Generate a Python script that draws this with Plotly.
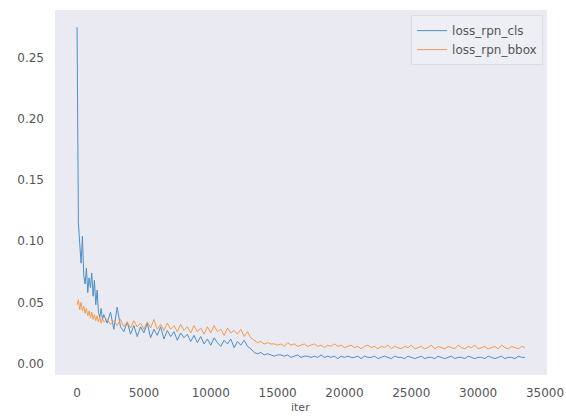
import plotly.graph_objects as go

ITERS = list(range(0, 2001, 100)) + list(range(2250, 33501, 250))

LOSS_RPN_CLS = [
    0.275, 0.115, 0.098, 0.082, 0.104, 0.072, 0.065, 0.078, 0.058, 0.070,
    0.062, 0.074, 0.055, 0.068, 0.048, 0.060, 0.042, 0.038, 0.045, 0.036,
    0.040,
    0.033, 0.042, 0.028, 0.046, 0.030, 0.026, 0.034, 0.024, 0.031, 0.022,
    0.030, 0.025, 0.033, 0.021, 0.028, 0.023, 0.030, 0.020, 0.027, 0.022,
    0.026, 0.019, 0.025, 0.021, 0.024, 0.018, 0.023, 0.017, 0.022, 0.016,
    0.020, 0.015, 0.021, 0.017, 0.014, 0.019, 0.016, 0.020, 0.013, 0.018,
    0.015, 0.019, 0.014, 0.012, 0.009, 0.008, 0.009, 0.007, 0.008, 0.007,
    0.006, 0.007,
    0.007, 0.006, 0.007, 0.005, 0.006, 0.007, 0.005, 0.006, 0.006, 0.005,
    0.006, 0.005, 0.007, 0.005, 0.006, 0.005, 0.006, 0.004, 0.006, 0.005,
    0.006, 0.005, 0.005, 0.006, 0.004, 0.006, 0.005, 0.005, 0.006, 0.004,
    0.005, 0.006, 0.005, 0.004, 0.006, 0.005, 0.005, 0.004, 0.006, 0.005,
    0.004, 0.005, 0.006, 0.004, 0.005, 0.005, 0.004, 0.006, 0.005, 0.004,
    0.005, 0.006, 0.004, 0.005, 0.005, 0.004, 0.006, 0.005, 0.004, 0.005,
    0.005, 0.004, 0.006, 0.005, 0.004, 0.005, 0.006, 0.004, 0.005, 0.005,
    0.004, 0.006, 0.005, 0.005,
]

LOSS_RPN_BBOX = [
    0.048, 0.052, 0.044, 0.050, 0.043, 0.047, 0.041, 0.045, 0.039, 0.043,
    0.037, 0.042, 0.036, 0.040, 0.035, 0.039, 0.034, 0.038, 0.033, 0.037,
    0.034,
    0.036, 0.032, 0.035, 0.031, 0.036, 0.030, 0.034, 0.029, 0.035, 0.030,
    0.033, 0.028, 0.034, 0.029, 0.036, 0.028, 0.032, 0.027, 0.033, 0.028,
    0.031, 0.026, 0.032, 0.027, 0.030, 0.025, 0.031, 0.026, 0.029, 0.024,
    0.030, 0.025, 0.031, 0.026, 0.028, 0.023, 0.029, 0.025, 0.027, 0.024,
    0.028, 0.022, 0.026, 0.021, 0.019, 0.017, 0.018, 0.016, 0.017, 0.016,
    0.016, 0.015,
    0.016, 0.014, 0.017, 0.015, 0.016, 0.014, 0.015, 0.016, 0.014, 0.015,
    0.016, 0.014, 0.015, 0.013, 0.015, 0.014, 0.016, 0.014, 0.015, 0.013,
    0.014, 0.015, 0.013, 0.014, 0.012, 0.014, 0.015, 0.013, 0.014, 0.012,
    0.014, 0.013, 0.015, 0.012, 0.014, 0.013, 0.012, 0.014, 0.013, 0.015,
    0.012, 0.013, 0.014, 0.012, 0.013, 0.015, 0.012, 0.014, 0.013, 0.012,
    0.014, 0.013, 0.012, 0.015, 0.013, 0.012, 0.014, 0.013, 0.015, 0.012,
    0.013, 0.014, 0.012, 0.013, 0.014, 0.012, 0.015, 0.013, 0.012, 0.014,
    0.013, 0.012, 0.014, 0.013,
]

assert len(ITERS) == len(LOSS_RPN_CLS) == len(LOSS_RPN_BBOX), (len(ITERS), len(LOSS_RPN_CLS), len(LOSS_RPN_BBOX))

X_TICKS = [0, 5000, 10000, 15000, 20000, 25000, 30000, 35000]
Y_TICKS = [0.00, 0.05, 0.10, 0.15, 0.20, 0.25]

FONT = "DejaVu Sans"
TICK_COLOR = "#555555"

fig = go.Figure()
fig.add_trace(go.Scatter(x=ITERS, y=LOSS_RPN_CLS, mode="lines", name="loss_rpn_cls",
                         line=dict(color="#4c8fc6", width=1)))
fig.add_trace(go.Scatter(x=ITERS, y=LOSS_RPN_BBOX, mode="lines", name="loss_rpn_bbox",
                         line=dict(color="#f59a4a", width=1)))

fig.update_layout(
    width=566, height=417,
    margin=dict(l=55, r=19, t=10, b=42, autoexpand=False),
    paper_bgcolor="white",
    plot_bgcolor="#eaeaf2",
    font=dict(family=FONT, size=12, color=TICK_COLOR),
    legend=dict(
        x=0.992, y=0.986, xanchor="right", yanchor="top",
        bgcolor="rgba(238,238,245,0.9)", bordercolor="#dcdce4", borderwidth=1,
        font=dict(family=FONT, size=12, color="#555555"),
        itemwidth=30, tracegroupgap=0,
    ),
    showlegend=True,
)
fig.update_xaxes(
    range=[-1650, 35150], tickvals=X_TICKS, ticktext=[str(v) for v in X_TICKS],
    showgrid=False, zeroline=False, showline=False, ticks="",
    ticklabelstandoff=9, automargin=False,
)
fig.update_yaxes(
    range=[-0.0094, 0.289], tickvals=Y_TICKS, ticktext=[f"{v:.2f}" for v in Y_TICKS],
    showgrid=False, zeroline=False, showline=False, ticks="",
    ticklabelstandoff=10, automargin=False,
)
fig.add_annotation(text="iter", xref="paper", yref="paper", x=(300 - 55) / 492, y=-0.09,
                   showarrow=False, font=dict(family=FONT, size=11, color="#555555"),
                   xanchor="center", yanchor="middle")

fig.write_html(
    "out.html",
    config={"displayModeBar": False},
    post_script="document.body.style.margin='0';document.body.style.padding='0';"
                "document.documentElement.style.overflow='hidden';",
)
